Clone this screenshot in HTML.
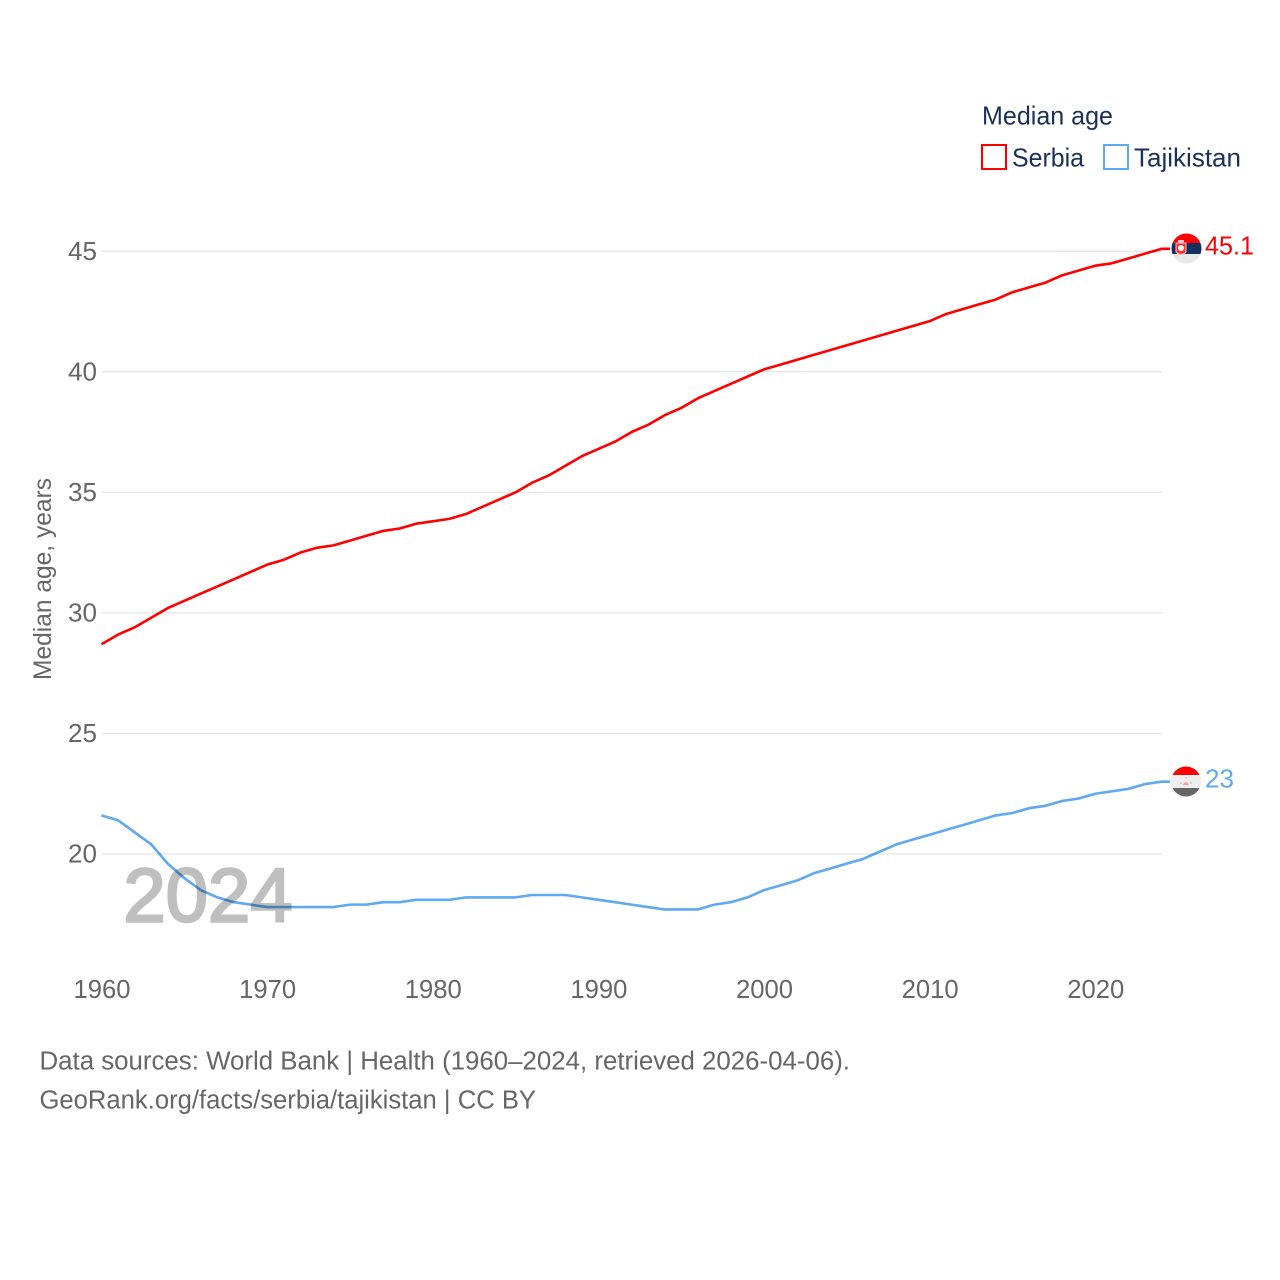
<!DOCTYPE html>
<html lang="en">
<head>
<meta charset="utf-8">
<title>Median age: Serbia and Tajikistan</title>
<style>
  html, body { margin: 0; padding: 0; background: #fff; }
  svg { display: block; }
  text { font-family: "Liberation Sans", sans-serif; }
</style>
</head>
<body>
<svg id="chart" xmlns="http://www.w3.org/2000/svg" width="1280" height="1280" viewBox="0 0 1280 1280">
  <rect width="1280" height="1280" fill="#ffffff"/>
  <g id="grid"></g>
  <g id="yticks"></g>
  <g id="xticks"></g>
  <text transform="translate(51,680) rotate(-90)" font-size="25" fill="#666666" textLength="202" lengthAdjust="spacingAndGlyphs">Median age, years</text>
  <text x="123.500" y="921.500" font-size="76" fill="#bfbfbf" stroke="#bfbfbf" stroke-width="2.5" textLength="169" lengthAdjust="spacingAndGlyphs">2024</text>
  <g id="series" style="mix-blend-mode:multiply"></g>

  <g>
    <clipPath id="clip-rs"><circle cx="1186.5" cy="248.5" r="15"/></clipPath>
    <g clip-path="url(#clip-rs)">
      <rect x="1170" y="232" width="34" height="11" fill="#ff0000"/>
      <rect x="1170" y="243" width="34" height="11" fill="#14305e"/>
      <rect x="1170" y="254" width="34" height="12" fill="#e8e8e8"/>
    </g>
    <path d="M1176 243 h10 v9 q-5 5 -10 0 z" fill="#ff3030" stroke="#f4c4c4" stroke-width="1"/>
    <circle cx="1181" cy="248" r="3" fill="#ffffff"/>
    <rect x="1178" y="240" width="6" height="3" fill="#f7c9c9"/>
  </g>
  <text x="1205" y="254.500" font-size="25.5" fill="#ff0000" textLength="49" lengthAdjust="spacingAndGlyphs">45.1</text>

  <g>
    <clipPath id="clip-tj"><circle cx="1186" cy="781.5" r="15"/></clipPath>
    <g clip-path="url(#clip-tj)">
      <rect x="1170" y="765" width="34" height="10" fill="#ff0000"/>
      <rect x="1170" y="775" width="34" height="13" fill="#eeeeee"/>
      <rect x="1170" y="788" width="34" height="10" fill="#666666"/>
    </g>
    <path d="M1183 785 q3 -6 6 0 z" fill="#ff9a9a"/>
    <rect x="1180" y="782" width="2" height="2" fill="#d0d0d0"/>
    <rect x="1190" y="782" width="2" height="2" fill="#d0d0d0"/>
    <rect x="1185.500" y="777" width="1.500" height="1.500" fill="#f5b5b5"/>
  </g>
  <text x="1205" y="787.500" font-size="25.5" fill="#5ea9f0" textLength="29" lengthAdjust="spacingAndGlyphs">23</text>

  <g>
    <text x="982" y="124.500" font-size="26" fill="#1a3059" textLength="131" lengthAdjust="spacingAndGlyphs">Median age</text>
    <rect x="982" y="145" width="24" height="24" fill="none" stroke="#ff0000" stroke-width="2"/>
    <text x="1012" y="166.500" font-size="26" fill="#1a3059" textLength="72" lengthAdjust="spacingAndGlyphs">Serbia</text>
    <rect x="1104" y="145" width="24" height="24" fill="none" stroke="#5ea9f0" stroke-width="2"/>
    <text x="1134" y="166.500" font-size="26" fill="#1a3059" textLength="107" lengthAdjust="spacingAndGlyphs">Tajikistan</text>
  </g>

  <text x="39.500" y="1069.500" font-size="25.5" fill="#666666" textLength="810.500" lengthAdjust="spacingAndGlyphs">Data sources: World Bank | Health (1960–2024, retrieved 2026-04-06).</text>
  <text x="39.500" y="1108.500" font-size="25.5" fill="#666666" textLength="496.500" lengthAdjust="spacingAndGlyphs">GeoRank.org/facts/serbia/tajikistan | CC BY</text>
</svg>
<script>
const startYear = 1960;
const serbiaValues = [28.7,29.1,29.4,29.8,30.2,30.5,30.8,31.1,31.4,31.7,32.0,32.2,32.5,32.7,32.8,33.0,33.2,33.4,33.5,33.7,33.8,33.9,34.1,34.4,34.7,35.0,35.4,35.7,36.1,36.5,36.8,37.1,37.5,37.8,38.2,38.5,38.9,39.2,39.5,39.8,40.1,40.3,40.5,40.7,40.9,41.1,41.3,41.5,41.7,41.9,42.1,42.4,42.6,42.8,43.0,43.3,43.5,43.7,44.0,44.2,44.4,44.5,44.7,44.9,45.1];
const tajikistanValues = [21.6,21.4,20.9,20.4,19.6,19.0,18.5,18.2,18.0,17.9,17.8,17.8,17.8,17.8,17.8,17.9,17.9,18.0,18.0,18.1,18.1,18.1,18.2,18.2,18.2,18.2,18.3,18.3,18.3,18.2,18.1,18.0,17.9,17.8,17.7,17.7,17.7,17.9,18.0,18.2,18.5,18.7,18.9,19.2,19.4,19.6,19.8,20.1,20.4,20.6,20.8,21.0,21.2,21.4,21.6,21.7,21.9,22.0,22.2,22.3,22.5,22.6,22.7,22.9,23.0];
const yTicks = [20,25,30,35,40,45];
const xTicks = [1960,1970,1980,1990,2000,2010,2020];

const NS = 'http://www.w3.org/2000/svg';
function xScale(year) { return 101.5 + (year - 1960) * 16.5625; }
function yScale(v) { return 854 - (v - 20) * 24.11; }

const gridGroup = document.getElementById('grid');
const yTickGroup = document.getElementById('yticks');
const xTickGroup = document.getElementById('xticks');
const seriesGroup = document.getElementById('series');

yTicks.forEach(function (t) {
  const line = document.createElementNS(NS, 'line');
  
  
  line.setAttribute('x1', 102);
  line.setAttribute('x2', 1162);
  line.setAttribute('y1', yScale(t));
  line.setAttribute('y2', yScale(t));
  line.setAttribute('stroke', '#e8e8e8');
  line.setAttribute('stroke-width', '1.5');
  gridGroup.appendChild(line);

  const label = document.createElementNS(NS, 'text');
  
  
  label.setAttribute('x', 68);
  label.setAttribute('y', yScale(t) + 8.5);
  label.setAttribute('font-size', '25.5');
  label.setAttribute('fill', '#666666');
  label.setAttribute('textLength', '29');
  label.setAttribute('lengthAdjust', 'spacingAndGlyphs');
  label.textContent = t;
  yTickGroup.appendChild(label);
});

xTicks.forEach(function (t) {
  const label = document.createElementNS(NS, 'text');
  
  
  label.setAttribute('x', xScale(t) - 28);
  label.setAttribute('y', 998);
  label.setAttribute('font-size', '25.5');
  label.setAttribute('fill', '#666666');
  label.setAttribute('textLength', '57');
  label.setAttribute('lengthAdjust', 'spacingAndGlyphs');
  label.textContent = t;
  xTickGroup.appendChild(label);
});

function drawSeries(values, color, name) {
  const pts = values.map(function (v, i) {
    return xScale(startYear + i).toFixed(2) + ',' + yScale(v).toFixed(2);
  });
  const lastValue = values[values.length - 1];
  pts.push('1170,' + yScale(lastValue).toFixed(2));
  const line = document.createElementNS(NS, 'polyline');
  
  
  line.setAttribute('points', pts.join(' '));
  line.setAttribute('fill', 'none');
  line.setAttribute('stroke', color);
  line.setAttribute('stroke-width', '2.6');
  line.setAttribute('stroke-linejoin', 'round');
  seriesGroup.appendChild(line);
}
drawSeries(serbiaValues, '#ff0000', 'serbia-line');
drawSeries(tajikistanValues, '#5ea9f0', 'tajikistan-line');
</script>
</body>
</html>
